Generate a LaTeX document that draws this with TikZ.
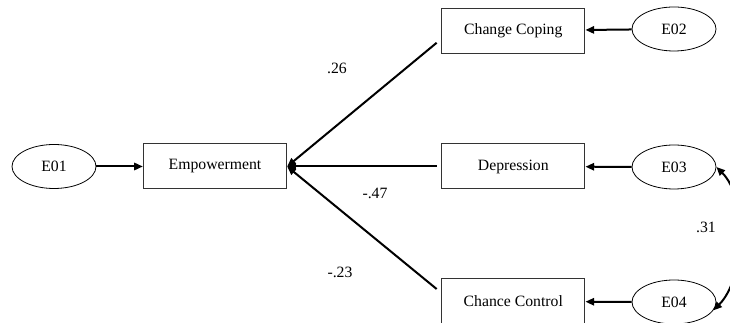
\documentclass[tikz,border=0pt]{standalone}
\usepackage{fontspec}
\setmainfont{Liberation Serif}
\usetikzlibrary{arrows.meta,shapes.geometric,calc}

\tikzset{every picture/.style={line width=0.75pt}}
\tikzset{
  varbox/.style={draw=black!80,line width=0.75pt,minimum width=107.5pt,minimum height=33.75pt,inner sep=0pt,font=\fontsize{11.8}{14}\selectfont},
  errell/.style={draw,ellipse,line width=0.6pt,minimum width=63pt,minimum height=33pt,inner sep=0pt,font=\fontsize{11.8}{14}\selectfont},
  coef/.style={inner sep=0.75pt,font=\fontsize{11.8}{14}\selectfont},
  path/.style={line width=1.5pt,-{Triangle[length=6.5pt,width=5.5pt]}},
  covpath/.style={line width=1.5pt,{Triangle[length=6.5pt,width=5.5pt]}-{Triangle[length=6.5pt,width=5.5pt]}}
}

\begin{document}
\begin{tikzpicture}[x=0.75pt,y=0.75pt,yscale=-1,xscale=1]
%set diagram left start at 0, and has height of 323
\useasboundingbox (0,0) rectangle (730,323);

%Shape: Ellipse
\node [errell] (e01) at (54,166.5) {E01};
%Shape: Rectangle
\node [varbox] (emp) at (215,166.5) {Empowerment};
%Shape: Rectangle
\node [varbox] (coping) at (513.3,30.8) {Change Coping};
%Shape: Ellipse
\node [errell] (e02) at (674,29) {E02};
%Shape: Rectangle
\node [varbox] (dep) at (513.3,166.5) {Depression};
%Shape: Ellipse
\node [errell] (e03) at (674,167) {E03};
%Shape: Rectangle
\node [varbox] (chance) at (513.3,301.5) {Chance Control};
%Shape: Ellipse
\node [errell] (e04) at (674,302) {E04};

%Line starts
\coordinate (copingout) at ($(coping.west)+(-4.5,12)$);
\coordinate (depout) at ($(dep.west)+(-4.5,0)$);
\coordinate (chanceout) at ($(chance.west)+(-4.5,-12.5)$);

%Straight Lines
\draw [path] (e01) -- (emp);
\draw [path] (e02) -- (coping);
\draw [path] (e03) -- (dep);
\draw [path] (e04) -- (chance);
\draw [path] (copingout) -- (emp.east);
\draw [path] (depout) -- (emp.east);
\draw [path] (chanceout) -- (emp.east);
%Curve Lines
\draw [covpath] (e03.east) to [out=45,in=-45,looseness=0.8] (e04.-12);

% Text Node
\node [coef] (c26) at (337,68) {.26};
% Text Node
\node [coef] (c47) at (375,193) {-.47};
% Text Node
\node [coef] (c23) at (340,272) {-.23};
% Text Node
\node [coef] (c31) at (706,227) {.31};

\end{tikzpicture}
\end{document}
